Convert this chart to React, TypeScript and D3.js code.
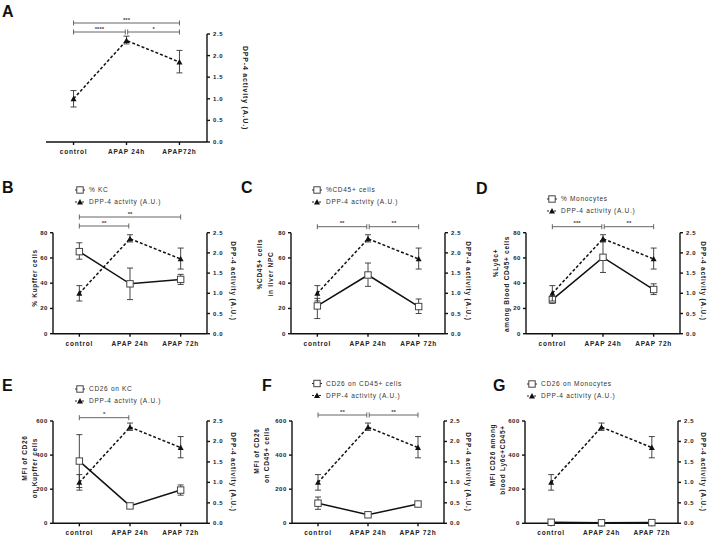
import React from "react";
import * as d3 from "d3";

const categories = ["control", "APAP 24h", "APAP 72h"];
const categoriesA = ["control", "APAP 24h", "APAP72h"];

const dppMean = [1.0, 2.35, 1.85];
const dppLow = [0.81, 2.27, 1.6];
const dppHigh = [1.19, 2.45, 2.12];

const kcMean = [65, 39.5, 43];
const kcLow = [59, 27, 39];
const kcHigh = [72, 52, 47];

const cd45Mean = [22, 46.5, 21.5];
const cd45Low = [12, 37.5, 16];
const cd45High = [28, 56, 27.5];

const monoMean = [27, 60.5, 35];
const monoLow = [24, 48.5, 31];
const monoHigh = [29.5, 73, 39.5];

const cd26KcMean = [365, 102, 195];
const cd26KcLow = [210, 95, 165];
const cd26KcHigh = [520, 110, 225];

const cd26Cd45Mean = [118, 50, 113];
const cd26Cd45Low = [82, 45, 107];
const cd26Cd45High = [154, 56, 119];

const cd26MonoMean = [6, 3, 4];
const cd26MonoLow = [2, 1, 2];
const cd26MonoHigh = [10, 5, 6];

const leftTicks80 = [0, 20, 40, 60, 80];
const leftTicks600 = [0, 200, 400, 600];
const rightTicks = [0, 0.5, 1.0, 1.5, 2.0, 2.5];

const sigA = [
  { from: 0, to: 2, label: "***", level: 1 },
  { from: 0, to: 1, label: "****", level: 0 },
  { from: 1, to: 2, label: "*", level: 0 },
];
const sigB = [
  { from: 0, to: 2, label: "**", level: 1 },
  { from: 0, to: 1, label: "**", level: 0 },
];
const sigC = [
  { from: 0, to: 1, label: "**", level: 0 },
  { from: 1, to: 2, label: "**", level: 0 },
];
const sigD = [
  { from: 0, to: 1, label: "***", level: 0 },
  { from: 1, to: 2, label: "**", level: 0 },
];
const sigE = [{ from: 0, to: 1, label: "*", level: 0 }];
const sigF = [
  { from: 0, to: 1, label: "**", level: 0 },
  { from: 1, to: 2, label: "**", level: 0 },
];

const FONT = "'Liberation Sans', Arial, sans-serif";

type Series = { mean: number[]; low: number[]; high: number[] };
type Sig = { from: number; to: number; label: string; level: number };

type PanelProps = {
  letter: string;
  letterX: number;
  letterY: number;
  left: number;
  right: number;
  top: number;
  bottom: number;
  cats: string[];
  leftMax?: number;
  leftTicks?: number[];
  leftSeries?: Series;
  leftTitle?: { text: string; x: number; cy: number }[];
  rightTitleX: number;
  rightTitleCy: number;
  rightTitleSize?: number;
  sig: Sig[];
  sigY: number[];
  legend?: { x: number; y: number; label1: string; label2: string };
};

function TriangleMarker({ x, y }: { x: number; y: number }) {
  const s = 3;
  return <path d={`M${x},${y - s}L${x + s},${y + s * 0.8}L${x - s},${y + s * 0.8}Z`} fill="#111" />;
}
function SquareMarker({ x, y }: { x: number; y: number }) {
  const s = 3.2;
  return <rect x={x - s} y={y - s} width={2 * s} height={2 * s} fill="#fff" stroke="#444" strokeWidth={1} />;
}

function ErrorBar({ x, y1, y2 }: { x: number; y1: number; y2: number }) {
  const c = 3;
  return (
    <g stroke="#333" strokeWidth={0.9}>
      <line x1={x} x2={x} y1={y1} y2={y2} />
      <line x1={x - c} x2={x + c} y1={y1} y2={y1} />
      <line x1={x - c} x2={x + c} y1={y2} y2={y2} />
    </g>
  );
}

function Panel(p: PanelProps) {
  const x = d3.scalePoint<number>().domain([0, 1, 2]).range([p.left, p.right]).padding(0.52);
  const yR = d3.scaleLinear().domain([0, 2.5]).range([p.bottom, p.top]);
  const yL = d3.scaleLinear().domain([0, p.leftMax || 1]).range([p.bottom, p.top]);
  const idx = [0, 1, 2];
  const line = (s: Series, y: d3.ScaleLinear<number, number>) =>
    d3.line<number>().x((i) => x(i)!).y((i) => y(s.mean[i]))(idx) || "";
  const dpp: Series = { mean: dppMean, low: dppLow, high: dppHigh };
  const tickStyle = { fontFamily: FONT, fontSize: 6, fontWeight: 700, fill: "#222", letterSpacing: 0.6 } as const;
  return (
    <g>
      <text x={p.letterX} y={p.letterY} fontFamily={FONT} fontWeight={700} fontSize={16} fill="#111">
        {p.letter}
      </text>
      {/* legend */}
      {p.legend && (
        <g fontFamily={FONT} fontSize={6.5} fill="#333" letterSpacing={0.7}>
          <line x1={p.legend.x} x2={p.legend.x + 10} y1={p.legend.y} y2={p.legend.y} stroke="#222" strokeWidth={1} />
          <SquareMarker x={p.legend.x + 5} y={p.legend.y} />
          <text x={p.legend.x + 14} y={p.legend.y + 2.3}>{p.legend.label1}</text>
          <line x1={p.legend.x} x2={p.legend.x + 10} y1={p.legend.y + 12} y2={p.legend.y + 12} stroke="#222" strokeWidth={1.2} strokeDasharray="2,1.5" />
          <TriangleMarker x={p.legend.x + 5} y={p.legend.y + 12} />
          <text x={p.legend.x + 14} y={p.legend.y + 14.3}>{p.legend.label2}</text>
        </g>
      )}
      {/* significance */}
      {p.sig.map((s, k) => {
        const yy = p.sigY[s.level];
        const x1 = x(s.from)! + (s.from === 1 ? 1.2 : 0);
        const x2 = x(s.to)! - (s.to === 1 ? 1.2 : 0);
        return (
          <g key={k}>
            <g stroke="#555" strokeWidth={0.9}>
              <line x1={x1} x2={x2} y1={yy} y2={yy} />
              <line x1={x1} x2={x1} y1={yy - 2.5} y2={yy + 2.5} />
              <line x1={x2} x2={x2} y1={yy - 2.5} y2={yy + 2.5} />
            </g>
            <text x={(x1 + x2) / 2} y={yy - 1.5} textAnchor="middle" fontFamily={FONT} fontSize={6} fontWeight={700} fill="#444">
              {s.label}
            </text>
          </g>
        );
      })}
      {/* axes */}
      <g stroke="#111" strokeWidth={1.4} fill="none">
        <line x1={p.left} x2={p.right} y1={p.bottom} y2={p.bottom} />
        <line x1={p.right} x2={p.right} y1={p.top} y2={p.bottom} />
        {p.leftMax && <line x1={p.left} x2={p.left} y1={p.top} y2={p.bottom} />}
        {idx.map((i) => (
          <line key={i} x1={x(i)!} x2={x(i)!} y1={p.bottom} y2={p.bottom + 3} />
        ))}
        {rightTicks.map((t) => (
          <line key={t} x1={p.right} x2={p.right + 3} y1={yR(t)} y2={yR(t)} />
        ))}
        {p.leftMax &&
          p.leftTicks!.map((t) => <line key={t} x1={p.left - 3} x2={p.left} y1={yL(t)} y2={yL(t)} />)}
      </g>
      {rightTicks.map((t) => (
        <text key={t} x={p.right + 6} y={yR(t) + 2} {...tickStyle}>
          {d3.format(".1f")(t)}
        </text>
      ))}
      {p.leftMax &&
        p.leftTicks!.map((t) => (
          <text key={t} x={p.left - 5} y={yL(t) + 2} textAnchor="end" {...tickStyle}>
            {t}
          </text>
        ))}
      {idx.map((i) => (
        <text key={i} x={x(i)!} y={p.bottom + 12} textAnchor="middle" {...tickStyle} fontSize={6.5} letterSpacing={0.8}>
          {p.cats[i]}
        </text>
      ))}
      {/* axis titles */}
      <text
        transform={`translate(${p.rightTitleX},${p.rightTitleCy}) rotate(90)`}
        textAnchor="middle"
        fontFamily={FONT}
        fontWeight={700}
        fontSize={p.rightTitleSize || 6.5}
        letterSpacing={0.8}
        fill="#222"
      >
        DPP-4 activity (A.U.)
      </text>
      {p.leftTitle &&
        p.leftTitle.map((t, k) => (
          <text
            key={k}
            transform={`translate(${t.x},${t.cy}) rotate(-90)`}
            textAnchor="middle"
            fontFamily={FONT}
            fontWeight={700}
            fontSize={6.5}
            letterSpacing={0.7}
            fill="#222"
          >
            {t.text}
          </text>
        ))}
      {/* left series */}
      {p.leftSeries && (
        <g>
          <path d={line(p.leftSeries, yL)} fill="none" stroke="#111" strokeWidth={1.5} />
          {idx.map((i) => (
            <ErrorBar key={i} x={x(i)!} y1={yL(p.leftSeries!.low[i])} y2={yL(p.leftSeries!.high[i])} />
          ))}
          {idx.map((i) => (
            <SquareMarker key={i} x={x(i)!} y={yL(p.leftSeries!.mean[i])} />
          ))}
        </g>
      )}
      {/* DPP-4 series */}
      <path d={line(dpp, yR)} fill="none" stroke="#111" strokeWidth={1.5} strokeDasharray="3,2" />
      {idx.map((i) => (
        <ErrorBar key={i} x={x(i)!} y1={yR(dpp.low[i])} y2={yR(dpp.high[i])} />
      ))}
      {idx.map((i) => (
        <TriangleMarker key={i} x={x(i)!} y={yR(dpp.mean[i])} />
      ))}
    </g>
  );
}

export default function App() {
  return (
    <svg width={709} height={538} style={{ position: "absolute", left: 0, top: 0, background: "#fff" }}>
      <rect width={709} height={538} fill="#fff" />
      <Panel
        letter="A" letterX={2} letterY={16.5}
        left={46} right={207} top={34} bottom={142}
        cats={categoriesA}
        rightTitleX={243} rightTitleCy={88} rightTitleSize={7}
        sig={sigA} sigY={[32, 23]}
      />
      <Panel
        letter="B" letterX={2} letterY={193}
        left={53} right={207} top={232.7} bottom={333.7}
        cats={categories}
        leftMax={80} leftTicks={leftTicks80}
        leftSeries={{ mean: kcMean, low: kcLow, high: kcHigh }}
        leftTitle={[{ text: "% Kupffer cells", x: 37, cy: 278 }]}
        rightTitleX={231} rightTitleCy={281}
        sig={sigB} sigY={[226, 217]}
        legend={{ x: 75, y: 190, label1: "% KC", label2: "DPP-4 actvity (A.U.)" }}
      />
      <Panel
        letter="C" letterX={241} letterY={193}
        left={291} right={445} top={232.7} bottom={333.7}
        cats={categories}
        leftMax={80} leftTicks={leftTicks80}
        leftSeries={{ mean: cd45Mean, low: cd45Low, high: cd45High }}
        leftTitle={[
          { text: "%CD45+ cells", x: 262, cy: 264 },
          { text: "in liver NPC", x: 273, cy: 274 },
        ]}
        rightTitleX={466} rightTitleCy={281}
        sig={sigC} sigY={[226.7]}
        legend={{ x: 312, y: 190, label1: "%CD45+ cells", label2: "DPP-4 actvity (A.U.)" }}
      />
      <Panel
        letter="D" letterX={476} letterY={194}
        left={526} right={680} top={232.7} bottom={333.7}
        cats={categories}
        leftMax={80} leftTicks={leftTicks80}
        leftSeries={{ mean: monoMean, low: monoLow, high: monoHigh }}
        leftTitle={[
          { text: "%Ly6c+", x: 498, cy: 263 },
          { text: "among Blood CD45+ cells", x: 509, cy: 284 },
        ]}
        rightTitleX={701} rightTitleCy={281}
        sig={sigD} sigY={[226.7]}
        legend={{ x: 547, y: 199, label1: "% Monocytes", label2: "DPP-4 activity (A.U.)" }}
      />
      <Panel
        letter="E" letterX={2} letterY={391}
        left={53} right={207} top={421} bottom={523.3}
        cats={categories}
        leftMax={600} leftTicks={leftTicks600}
        leftSeries={{ mean: cd26KcMean, low: cd26KcLow, high: cd26KcHigh }}
        leftTitle={[
          { text: "MFI of CD26", x: 27, cy: 458 },
          { text: "on Kupffer cells", x: 37, cy: 468 },
        ]}
        rightTitleX={231} rightTitleCy={472}
        sig={sigE} sigY={[417.7]}
        legend={{ x: 75, y: 389, label1: "CD26 on  KC", label2: "DPP-4 actvity (A.U.)" }}
      />
      <Panel
        letter="F" letterX={262} letterY={391}
        left={292} right={444} top={421} bottom={523.3}
        cats={categories}
        leftMax={600} leftTicks={leftTicks600}
        leftSeries={{ mean: cd26Cd45Mean, low: cd26Cd45Low, high: cd26Cd45High }}
        leftTitle={[
          { text: "MFI of CD26", x: 259, cy: 451 },
          { text: "on CD45+ cells", x: 269, cy: 455 },
        ]}
        rightTitleX={466} rightTitleCy={472}
        sig={sigF} sigY={[415]}
        legend={{ x: 312, y: 383.5, label1: "CD26 on CD45+ cells", label2: "DPP-4 activity (A.U.)" }}
      />
      <Panel
        letter="G" letterX={493} letterY={391}
        left={525} right={678} top={421} bottom={523.3}
        cats={categories}
        leftMax={600} leftTicks={leftTicks600}
        leftSeries={{ mean: cd26MonoMean, low: cd26MonoLow, high: cd26MonoHigh }}
        leftTitle={[
          { text: "MFI CD26 among", x: 495, cy: 455 },
          { text: "blood Ly6c+CD45+", x: 505, cy: 460 },
        ]}
        rightTitleX={701} rightTitleCy={472}
        sig={[]} sigY={[0]}
        legend={{ x: 527, y: 384, label1: "CD26 on Monocytes", label2: "DPP-4 activity (A.U.)" }}
      />
    </svg>
  );
}
